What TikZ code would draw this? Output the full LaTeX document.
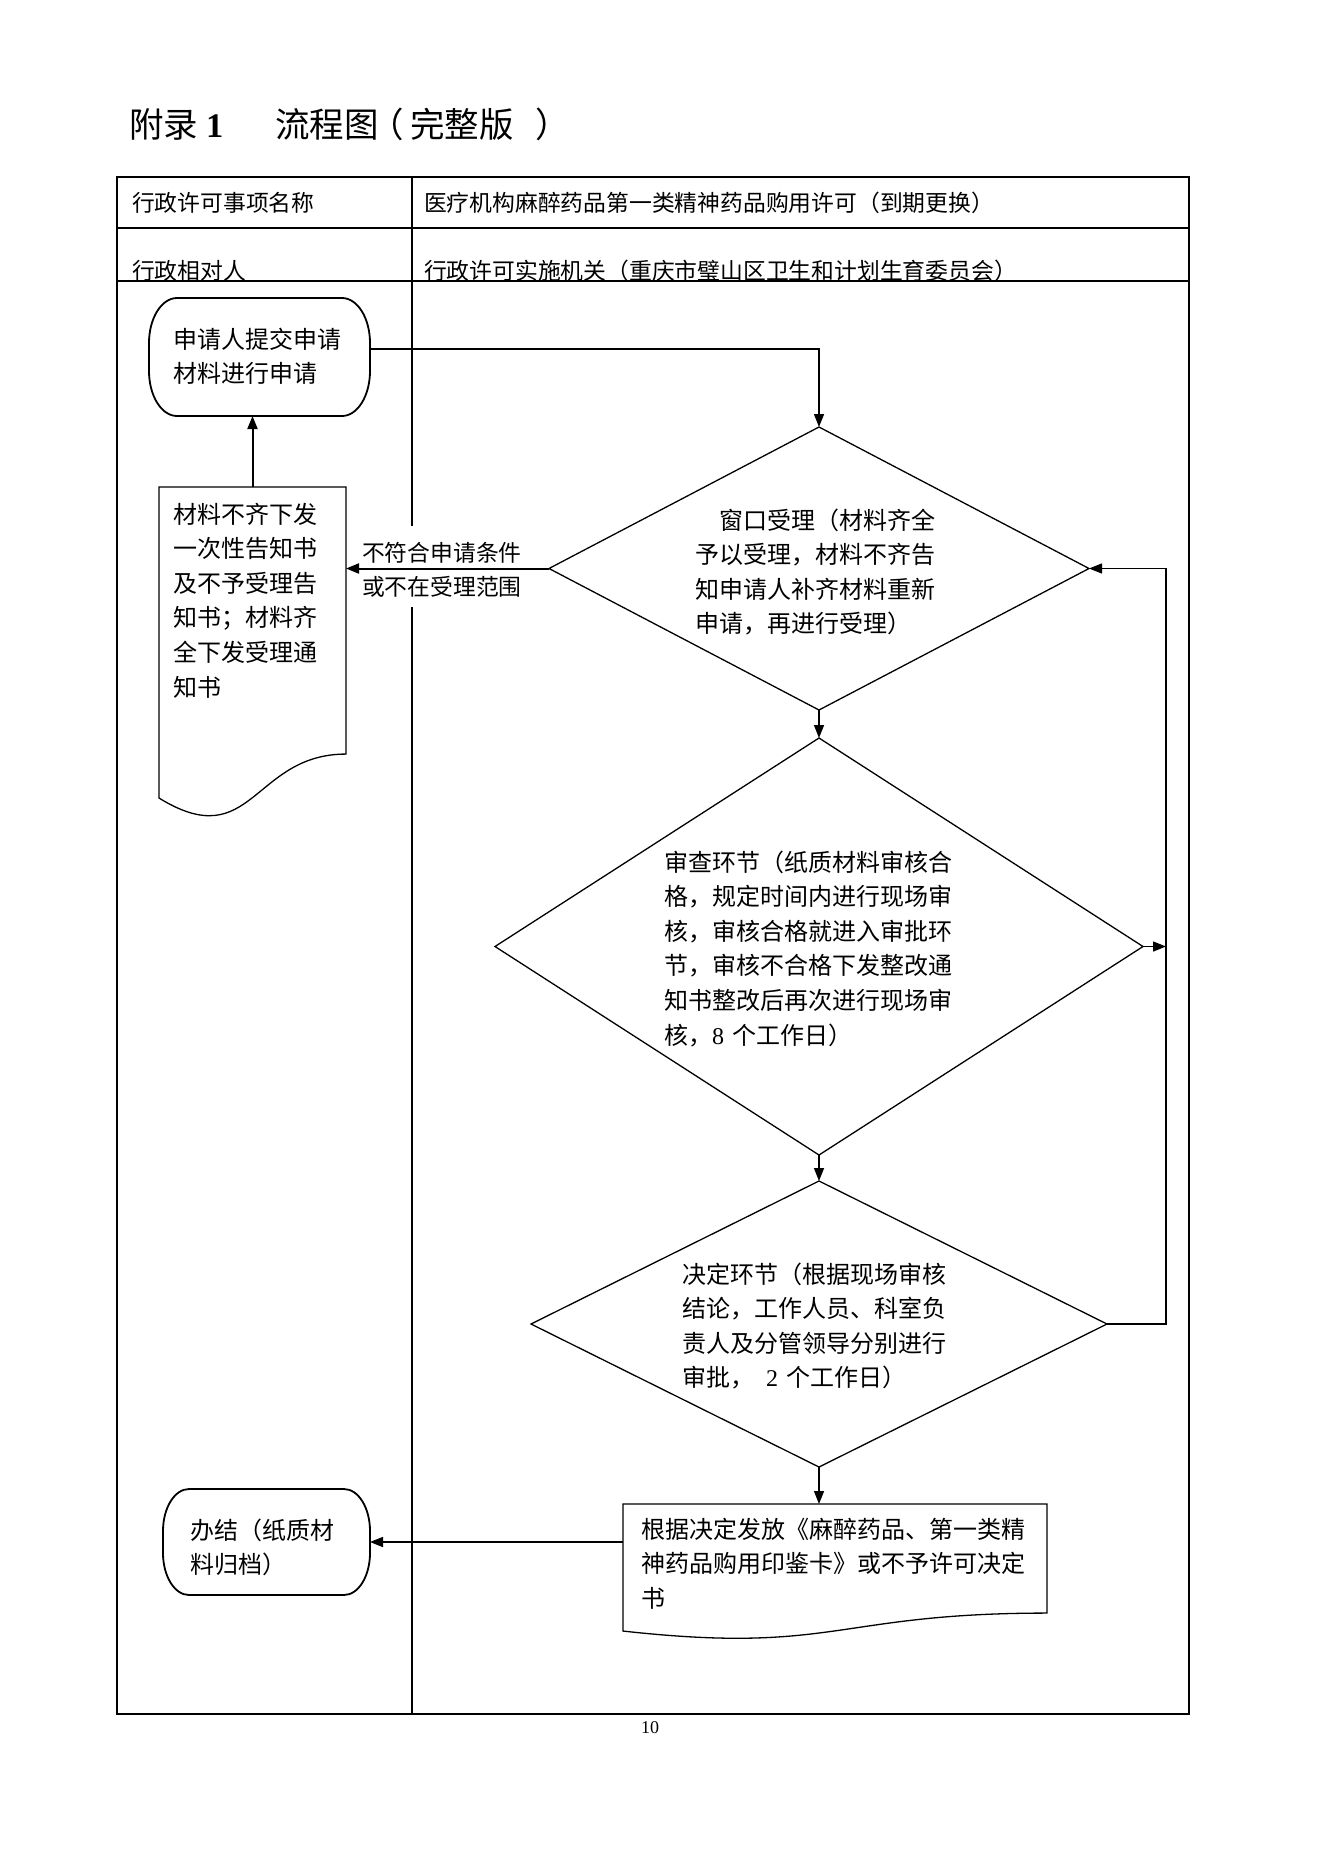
\documentclass[tikz,border=0pt]{standalone}
\usepackage{fontspec}
\setmainfont{Noto Sans CJK SC}
\newfontfamily\serifd{Liberation Serif}
\usetikzlibrary{arrows.meta,shapes.geometric,calc}
\newcommand\bodyfont{\fontsize{24}{34.6}\selectfont}
\newcommand\headfont{\fontsize{22.8}{34}\selectfont}
% document shape (Word flowchart "document") drawn on the box of node #1
\newcommand\docpath[1]{\draw[shapeline] (#1.north west) -- (#1.north east) -- ($(#1.north east)!0.802!(#1.south east)$) .. controls ($(#1.north)!0.802!(#1.south)$) and ($(#1.north)!1.107!(#1.south)$) .. ($(#1.north west)!0.934!(#1.south west)$) -- cycle;}
% terminator with elliptical corners on the box of node #1: #2 = x radius, #3 = y radius
\newcommand\termpath[3]{\draw[termline] ($(#1.north west)+(#2,0pt)$) -- ($(#1.north east)+(-#2,0pt)$) arc[start angle=90,end angle=0,x radius=#2,y radius=#3] -- ($(#1.south east)+(0pt,#3)$) arc[start angle=0,end angle=-90,x radius=#2,y radius=#3] -- ($(#1.south west)+(#2,0pt)$) arc[start angle=270,end angle=180,x radius=#2,y radius=#3] -- ($(#1.north west)+(0pt,-#3)$) arc[start angle=180,end angle=90,x radius=#2,y radius=#3] -- cycle;}
\tikzset{
  frame/.style={line width=1.8pt},
  rowline/.style={line width=1.2pt},
  shapeline/.style={line width=1.3pt},
  termline/.style={line width=1.8pt},
  box/.style={inner sep=0pt, outer sep=0pt},
  dia/.style={draw, shape=diamond, line width=1.3pt, inner sep=0pt, outer sep=0pt},
  docbox/.style={inner sep=0pt, outer sep=0pt, anchor=north west},
  txt/.style={anchor=base west, inner sep=0pt, outer sep=0pt, text width=420pt, align=left, font=\bodyfont},
  hd/.style={anchor=base west, inner sep=0pt, outer sep=0pt, font=\headfont},
  lbl/.style={anchor=base west, inner sep=0pt, outer sep=0pt, text width=200pt, align=left, font=\headfont},
  conn/.style={line width=1.4pt, -{Triangle[length=13pt,width=10pt]}},
  connthick/.style={line width=2pt, -{Triangle[length=13pt,width=10pt]}},
}
\begin{document}
\begin{tikzpicture}[x=1pt,y=-1pt]
\useasboundingbox (0,0) rectangle (1323,1871);
% title
\node[anchor=base west, inner sep=0pt, font=\fontsize{34.5}{40}\selectfont] (title) at (129,137.5) {附录\hspace{8pt}{\serifd\bfseries 1}\hspace{52pt}流程图\hspace{-9pt}（\hspace{6pt}完整版\hspace{22pt}）};
% table
\draw[frame] (117,177) rectangle (1189,1714);
\draw[frame] (412,177) -- (412,526);
\draw[frame] (412,607) -- (412,1714);
\draw[rowline] (117,228) -- (1189,228);
\draw[rowline] (117,281) -- (1189,281);
\node[hd] (h1) at (132,211) {行政许可事项名称};
\node[hd] (h2) at (424,211) {医疗机构麻醉药品第一类精神药品购用许可（到期更换）};
\node[hd] (h3) at (132,279) {行政相对人};
\node[hd] (h4) at (424,279) {行政许可实施机关（重庆市璧山区卫生和计划生育委员会）};
% start terminal
\node[box, minimum width=221pt, minimum height=118pt] (start) at (259.5,357) {};
\termpath{start}{28pt}{45pt}
\node[txt] (startt) at (173,348) {申请人提交申请\\材料进行申请};
% document 1
\node[docbox, minimum width=187pt, minimum height=333pt] (doc1) at (159,487) {};
\docpath{doc1}
\node[txt] (doc1t) at (173,523) {材料不齐下发\\一次性告知书\\及不予受理告\\知书；材料齐\\全下发受理通\\知书};
% label
\node[lbl] (lab) at (362,561.7) {不符合申请条件\\或不在受理范围};
% diamonds
\node[dia, minimum width=540pt, minimum height=283pt] (d1) at (819,568.5) {};
\node[txt] (d1t) at (695,529) {\hspace*{24pt}窗口受理（材料齐全\\予以受理，材料不齐告\\知申请人补齐材料重新\\申请，再进行受理）};
\node[dia, minimum width=648pt, minimum height=417pt] (d2) at (819,946.5) {};
\node[txt] (d2t) at (664,871) {审查环节（纸质材料审核合\\格，规定时间内进行现场审\\核，审核合格就进入审批环\\节，审核不合格下发整改通\\知书整改后再次进行现场审\\核，{\serifd 8} 个工作日）};
\node[dia, minimum width=576pt, minimum height=286pt] (d3) at (819,1324) {};
\node[txt] (d3t) at (682,1283) {决定环节（根据现场审核\\结论，工作人员、科室负\\责人及分管领导分别进行\\审批，\hspace{12pt}{\serifd 2} 个工作日）};
% document 2
\node[docbox, minimum width=424pt, minimum height=136pt] (doc2) at (623,1504) {};
\docpath{doc2}
\node[txt] (doc2t) at (641,1538) {根据决定发放《麻醉药品、第一类精\\神药品购用印鉴卡》或不予许可决定\\书};
% end terminal
\node[box, minimum width=207pt, minimum height=106pt] (fin) at (266.5,1542) {};
\termpath{fin}{26pt}{42pt}
\node[txt] (fint) at (190,1539) {办结（纸质材\\料归档）};
% page number
\node[anchor=base, inner sep=0pt, font=\serifd\fontsize{18}{20}\selectfont] (pg) at (650,1733) {10};
% connectors
\coordinate (loopx) at (1166,0);
\draw[conn] ([yshift=8pt]start.east) -| (d1.north);
\draw[connthick] (doc1.north) -- (doc1.north |- start.south);
\draw[connthick] (d1.west) -- (d1.west -| doc1.east);
\draw[conn] (d1.south) -- (d2.north);
\draw[conn] (d2.south) -- (d3.north);
\draw[conn] (d3.south) -- (d3.south |- doc2.north);
\draw[conn] (fin.east -| doc2.west) -- (fin.east);
\draw[conn] (d3.east) -- (d3.east -| loopx) -- (d1.east -| loopx) -- (d1.east);
\draw[conn] (d2.east) -- (d2.east -| loopx);
\end{tikzpicture}
\end{document}
